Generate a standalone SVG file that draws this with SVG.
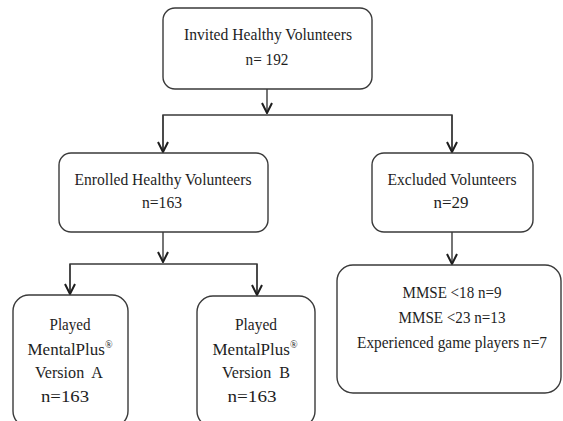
<svg xmlns="http://www.w3.org/2000/svg" width="563" height="421" viewBox="0 0 563 421">
<style>
.box{fill:#ffffff;stroke:#3a3a3a;stroke-width:1.4}
text{font-family:'Liberation Serif','Times New Roman',Times,serif;font-size:17px;fill:#1e1e1e;text-anchor:middle}
.c{fill:none;stroke:#3a3a3a;stroke-width:1.4}
</style>
<defs>
<marker id="ah" viewBox="0 0 12 12" refX="11" refY="6" markerWidth="12" markerHeight="12" markerUnits="userSpaceOnUse" orient="auto">
<path d="M1,1 L11,6 L1,11" fill="none" stroke="#1e1e1e" stroke-width="2"/>
</marker>
</defs>
<rect width="563" height="421" fill="#ffffff"/>
<g id="connectors">
<line class="c" x1="267" y1="89" x2="267" y2="113" marker-end="url(#ah)"/>
<polyline class="c" points="163,152 163,115 452,115 452,152"/>
<line class="c" x1="163" y1="115" x2="163" y2="152" marker-end="url(#ah)"/>
<line class="c" x1="452" y1="115" x2="452" y2="152" marker-end="url(#ah)"/>
<line class="c" x1="163" y1="232" x2="163" y2="262" marker-end="url(#ah)"/>
<polyline class="c" points="70,294 70,264 257,264 257,294"/>
<line class="c" x1="70" y1="264" x2="70" y2="294" marker-end="url(#ah)"/>
<line class="c" x1="257" y1="264" x2="257" y2="295" marker-end="url(#ah)"/>
<line class="c" x1="452" y1="232" x2="452" y2="264" marker-end="url(#ah)"/>
</g>
<g id="invited">
<rect class="box" x="163" y="8" width="209" height="81" rx="12"/>
<text x="268" y="40" textLength="168" lengthAdjust="spacingAndGlyphs">Invited Healthy Volunteers</text>
<text x="267" y="65" textLength="43" lengthAdjust="spacingAndGlyphs">n= 192</text>
</g>
<g id="enrolled">
<rect class="box" x="59" y="153" width="209" height="79" rx="12"/>
<text x="163" y="185" textLength="177" lengthAdjust="spacingAndGlyphs">Enrolled Healthy Volunteers</text>
<text x="162" y="208" textLength="40" lengthAdjust="spacingAndGlyphs">n=163</text>
</g>
<g id="excluded">
<rect class="box" x="372" y="153" width="161" height="79" rx="12"/>
<text x="452" y="185" textLength="129" lengthAdjust="spacingAndGlyphs">Excluded Volunteers</text>
<text x="451" y="208" textLength="35" lengthAdjust="spacingAndGlyphs">n=29</text>
</g>
<g id="versionA">
<rect class="box" x="13" y="295" width="115" height="132" rx="16"/>
<text x="70" y="330" textLength="41" lengthAdjust="spacingAndGlyphs">Played</text>
<text x="70" y="355">MentalPlus<tspan font-size="10" dy="-7">®</tspan></text>
<text x="69" y="378" textLength="68" lengthAdjust="spacingAndGlyphs" xml:space="preserve">Version  A</text>
<text x="65" y="402" textLength="48" lengthAdjust="spacingAndGlyphs">n=163</text>
</g>
<g id="versionB">
<rect class="box" x="197" y="296" width="118" height="131" rx="16"/>
<text x="256" y="330" textLength="42" lengthAdjust="spacingAndGlyphs">Played</text>
<text x="255" y="355">MentalPlus<tspan font-size="10" dy="-7">®</tspan></text>
<text x="256" y="378" textLength="68" lengthAdjust="spacingAndGlyphs" xml:space="preserve">Version  B</text>
<text x="252" y="402" textLength="49" lengthAdjust="spacingAndGlyphs">n=163</text>
</g>
<g id="mmse">
<rect class="box" x="337" y="265" width="224" height="128" rx="16"/>
<text x="452" y="298" font-size="16" textLength="99" lengthAdjust="spacingAndGlyphs">MMSE &lt;18 n=9</text>
<text x="452" y="323" font-size="16" textLength="107" lengthAdjust="spacingAndGlyphs">MMSE &lt;23 n=13</text>
<text x="452" y="348" style="font-size:16px" textLength="190" lengthAdjust="spacingAndGlyphs">Experienced game players n=7</text>
</g>
</svg>
